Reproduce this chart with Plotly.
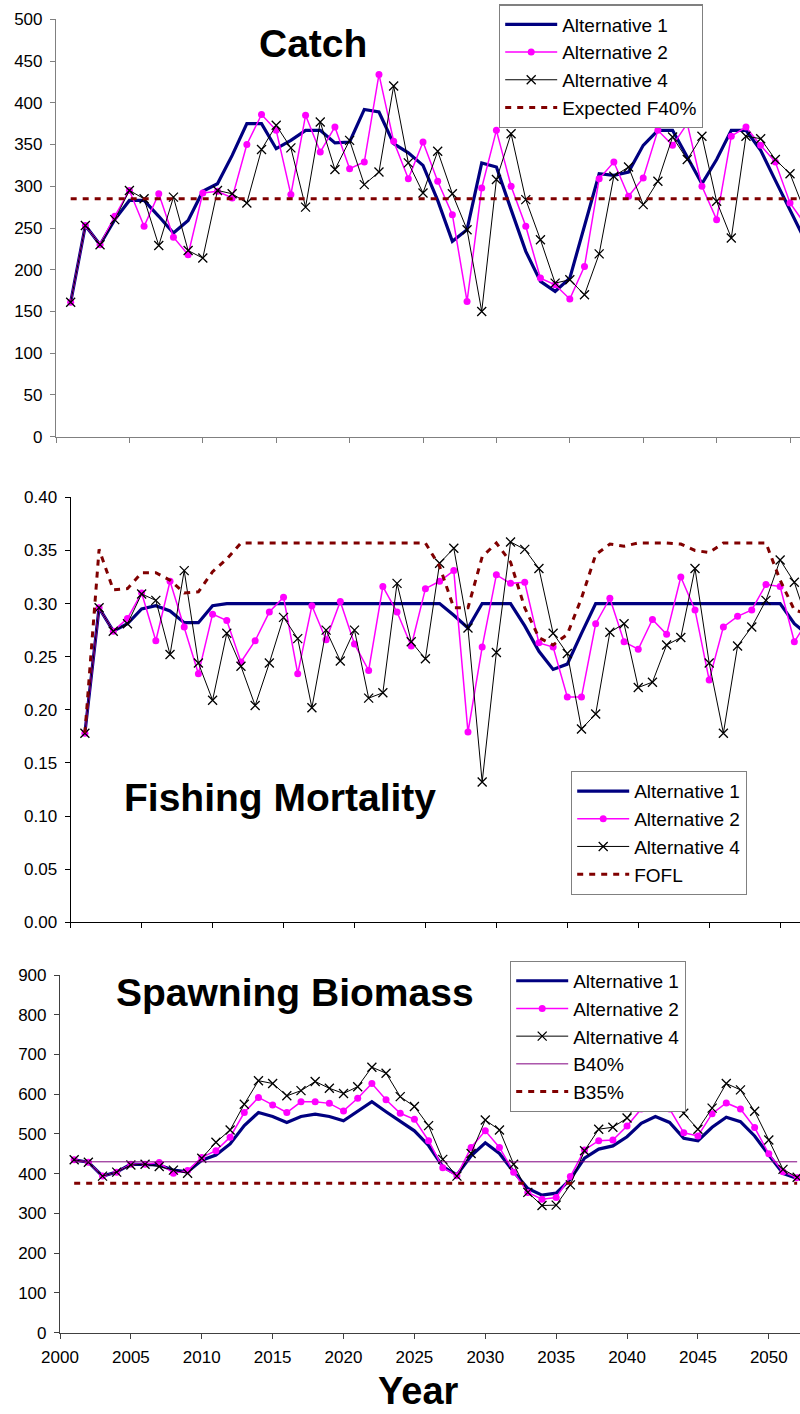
import plotly.graph_objects as go

# ---------------- data ----------------
YEARS = list(range(2001, 2053))

catch_alt1 = [161, 253, 230, 260, 283, 283, 264, 244, 259, 294,
              303, 337, 375, 375, 345, 355, 367, 367, 352, 353,
              392, 389, 351, 340, 325, 283, 234, 248, 328, 323,
              272, 222, 186, 174, 190, 252, 315, 313, 317, 349,
              367, 367, 335, 303, 332, 367, 367, 343, 307, 272, 236]
catch_alt2 = [161, 253, 230, 264, 295, 252, 291, 239, 218, 292,
              294, 286, 350, 386, 367, 290, 385, 341, 371, 321,
              329, 434, 354, 309, 353, 306, 266, 162, 298, 367,
              300, 252, 190, 182, 165, 204, 309, 329, 288, 310,
              367, 349, 375, 300, 260, 360, 371, 349, 329, 280, 255]
catch_alt4 = [161, 253, 230, 260, 295, 285, 229, 287, 223, 214,
              295, 291, 280, 344, 373, 346, 275, 377, 320, 355,
              302, 317, 420, 328, 292, 342, 291, 248, 150, 308,
              363, 284, 236, 184, 188, 170, 219, 312, 323, 278,
              306, 359, 332, 360, 282, 238, 360, 357, 332, 315, 270]
F40_LEVEL = 285

f_alt1 = [0.178, 0.296, 0.274, 0.281, 0.295, 0.298, 0.293, 0.282, 0.282, 0.298,
          0.300, 0.300, 0.300, 0.300, 0.300, 0.300, 0.300, 0.300, 0.300, 0.300,
          0.300, 0.300, 0.300, 0.300, 0.300, 0.300, 0.289, 0.277, 0.300, 0.300,
          0.300, 0.279, 0.255, 0.238, 0.243, 0.272, 0.300, 0.300, 0.300, 0.300,
          0.300, 0.300, 0.300, 0.300, 0.300, 0.300, 0.300, 0.300, 0.300, 0.300,
          0.281, 0.270]
f_alt2 = [0.178, 0.296, 0.274, 0.286, 0.310, 0.265, 0.321, 0.278, 0.234, 0.290,
          0.284, 0.245, 0.265, 0.292, 0.306, 0.234, 0.298, 0.266, 0.302, 0.262,
          0.237, 0.316, 0.292, 0.260, 0.314, 0.321, 0.331, 0.179, 0.259, 0.327,
          0.319, 0.320, 0.263, 0.259, 0.212, 0.212, 0.281, 0.305, 0.264, 0.257,
          0.285, 0.271, 0.325, 0.294, 0.228, 0.278, 0.288, 0.294, 0.318, 0.316,
          0.264, 0.285]
f_alt4 = [0.178, 0.296, 0.274, 0.281, 0.309, 0.303, 0.252, 0.331, 0.244, 0.209,
          0.272, 0.241, 0.204, 0.244, 0.287, 0.267, 0.202, 0.275, 0.246, 0.275,
          0.211, 0.216, 0.319, 0.264, 0.248, 0.338, 0.352, 0.277, 0.132, 0.254,
          0.358, 0.351, 0.333, 0.272, 0.253, 0.182, 0.196, 0.273, 0.281, 0.221,
          0.226, 0.261, 0.268, 0.333, 0.244, 0.178, 0.260, 0.278, 0.303, 0.341,
          0.320, 0.280]
f_ofl = [0.178, 0.351, 0.313, 0.314, 0.329, 0.329, 0.322, 0.310, 0.311, 0.330,
         0.342, 0.357, 0.357, 0.357, 0.357, 0.357, 0.357, 0.357, 0.357, 0.357,
         0.357, 0.357, 0.357, 0.357, 0.357, 0.335, 0.296, 0.296, 0.344, 0.357,
         0.339, 0.296, 0.268, 0.261, 0.271, 0.305, 0.346, 0.356, 0.354, 0.357,
         0.357, 0.357, 0.356, 0.350, 0.348, 0.357, 0.357, 0.357, 0.357, 0.322,
         0.294, 0.290]

b_alt1 = [435, 429, 394, 404, 424, 424, 422, 409, 405, 434,
          447, 475, 521, 554, 544, 529, 544, 550, 544, 533,
          556, 581, 556, 531, 508, 471, 418, 397, 445, 478,
          451, 405, 363, 346, 351, 386, 439, 462, 470, 493,
          527, 544, 529, 489, 483, 517, 542, 531, 495, 447, 401, 388]
b_alt2 = [435, 429, 394, 404, 424, 424, 428, 401, 408, 441,
          458, 492, 554, 592, 573, 554, 581, 581, 577, 558,
          590, 627, 586, 552, 537, 483, 415, 395, 466, 508,
          466, 404, 353, 336, 340, 393, 460, 483, 485, 520,
          563, 578, 563, 503, 495, 551, 578, 563, 516, 450, 405, 390]
b_alt4 = [435, 429, 394, 404, 422, 424, 418, 409, 401, 439,
          479, 510, 575, 634, 627, 596, 609, 632, 615, 602,
          619, 668, 653, 594, 569, 521, 436, 394, 451, 535,
          510, 424, 353, 320, 321, 372, 458, 512, 517, 540,
          590, 615, 600, 552, 512, 565, 627, 611, 557, 485, 411, 391]
B40_LEVEL = 430
B35_LEVEL = 376

# ---------------- styling ----------------
FONT = "Liberation Sans, Arial, sans-serif"
W, H = 800, 1414
NAVY = "#000080"
MAGENTA = "#FF00FF"
DARKRED = "#800000"
PURPLE = "#800080"


def px_x(p):
    return p / W


def px_y(p):
    return 1 - p / H


fig = go.Figure()


def add_alts(y1, y2, y4, xa, ya, leg):
    fig.add_trace(go.Scatter(x=YEARS[:len(y1)], y=y1, name="Alternative 1", mode="lines",
                             line=dict(color=NAVY, width=3.2), xaxis=xa, yaxis=ya, legend=leg))
    fig.add_trace(go.Scatter(x=YEARS[:len(y2)], y=y2, name="Alternative 2", mode="lines+markers",
                             line=dict(color=MAGENTA, width=1.5),
                             marker=dict(symbol="circle", size=7, color=MAGENTA),
                             xaxis=xa, yaxis=ya, legend=leg))
    fig.add_trace(go.Scatter(x=YEARS[:len(y4)], y=y4, name="Alternative 4", mode="lines+markers",
                             line=dict(color="black", width=1),
                             marker=dict(symbol="x-thin", size=9, color="black",
                                         line=dict(color="black", width=1.3)),
                             xaxis=xa, yaxis=ya, legend=leg))


# Catch
add_alts(catch_alt1, catch_alt2, catch_alt4, "x", "y", "legend")
fig.add_trace(go.Scatter(x=YEARS, y=[F40_LEVEL] * len(YEARS), name="Expected F40%", mode="lines",
                         line=dict(color=DARKRED, width=3, dash="6px,6px"),
                         xaxis="x", yaxis="y", legend="legend"))
# Fishing mortality
add_alts(f_alt1, f_alt2, f_alt4, "x2", "y2", "legend2")
fig.add_trace(go.Scatter(x=YEARS[:len(f_ofl)], y=f_ofl, name="FOFL", mode="lines",
                         line=dict(color=DARKRED, width=3, dash="6px,6px"),
                         xaxis="x2", yaxis="y2", legend="legend2"))
# Spawning biomass
add_alts(b_alt1, b_alt2, b_alt4, "x3", "y3", "legend3")
fig.add_trace(go.Scatter(x=YEARS, y=[B40_LEVEL] * len(YEARS), name="B40%", mode="lines",
                         line=dict(color=PURPLE, width=1),
                         xaxis="x3", yaxis="y3", legend="legend3"))
fig.add_trace(go.Scatter(x=YEARS, y=[B35_LEVEL] * len(YEARS), name="B35%", mode="lines",
                         line=dict(color=DARKRED, width=3, dash="6px,6px"),
                         xaxis="x3", yaxis="y3", legend="legend3"))

XTICKS = list(range(2000, 2051, 5))
tickfont = dict(family=FONT, size=17, color="black")


def xaxis(domain_left, rng, anchor, color, labels):
    return dict(domain=[px_x(domain_left), 1], range=rng, anchor=anchor, automargin=False,
                tickmode="array", tickvals=XTICKS, showticklabels=labels,
                ticks="outside", ticklen=5, tickcolor=color, tickwidth=1,
                showline=True, linecolor=color, linewidth=1.2, ticklabelstandoff=4,
                showgrid=False, zeroline=False, tickfont=tickfont)


def yaxis(top, bottom, rng, dtick, anchor, color, fmt=None):
    d = dict(domain=[px_y(bottom), px_y(top)], range=rng, anchor=anchor, automargin=False,
             tick0=0, dtick=dtick, ticks="outside", ticklen=5, tickcolor=color,
             tickwidth=1, showline=True, linecolor=color, linewidth=1.2,
             showgrid=False, zeroline=False, tickfont=tickfont, ticklabelstandoff=4)
    if fmt:
        d["tickformat"] = fmt
    return d


def legend(left, top):
    return dict(x=px_x(left), y=px_y(top), xanchor="left", yanchor="top",
                bgcolor="white", bordercolor="#808080", borderwidth=1.2,
                font=dict(family=FONT, size=19, color="black"),
                tracegroupgap=0, itemwidth=52)


fig.update_layout(
    width=W, height=H,
    margin=dict(l=0, r=0, t=0, b=0, autoexpand=False),
    paper_bgcolor="white", plot_bgcolor="white",
    font=dict(family=FONT, color="black"),
    showlegend=True,
    xaxis=xaxis(56, [2000, 2050.68], "y", "#808080", False),
    yaxis=yaxis(19.3, 436.7, [0, 500], 50, "x", "#808080"),
    xaxis2=xaxis(70.7, [2000, 2051.4], "y2", "black", False),
    yaxis2=yaxis(497.3, 922.3, [0, 0.4], 0.05, "x2", "black", ".2f"),
    xaxis3=xaxis(60, [2000, 2052.2], "y3", "#404040", True),
    yaxis3=yaxis(975, 1332.7, [0, 900], 100, "x3", "#404040"),
    legend=legend(499, 4.3),
    legend2=legend(571, 771),
    legend3=legend(510, 960.7),
    annotations=[
        dict(text="<b>Catch</b>", x=px_x(313), y=px_y(44), xref="paper", yref="paper",
             showarrow=False, xanchor="center", yanchor="middle",
             font=dict(family=FONT, size=39, color="black")),
        dict(text="<b>Fishing Mortality</b>", x=px_x(280), y=px_y(797), xref="paper", yref="paper",
             showarrow=False, xanchor="center", yanchor="middle",
             font=dict(family=FONT, size=39, color="black")),
        dict(text="<b>Spawning Biomass</b>", x=px_x(294.5), y=px_y(992), xref="paper", yref="paper",
             showarrow=False, xanchor="center", yanchor="middle",
             font=dict(family=FONT, size=39, color="black")),
        dict(text="<b>Year</b>", x=px_x(418), y=0, xref="paper", yref="paper",
             showarrow=False, xanchor="center", yanchor="bottom",
             font=dict(family=FONT, size=38, color="black")),
    ],
)

fig.write_html(
    "out.html",
    config={"displayModeBar": False},
    post_script="document.body.style.margin='0';document.body.style.overflow='hidden';",
)
